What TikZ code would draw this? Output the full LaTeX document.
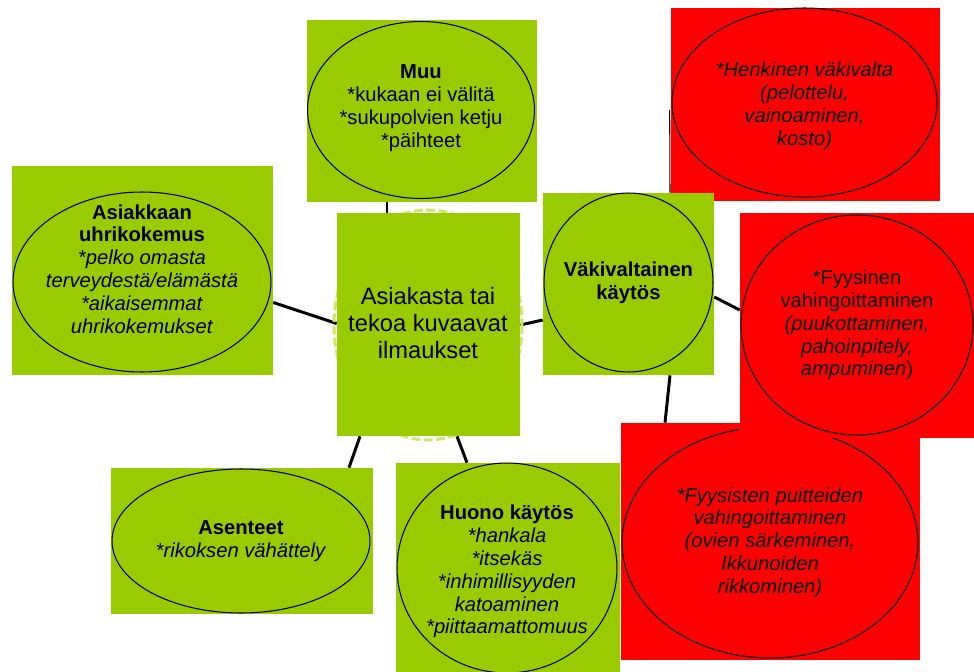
\documentclass[tikz,border=0pt]{standalone}
\usepackage{fontspec}
\setmainfont{Liberation Sans}
\usetikzlibrary{shapes.geometric,calc,backgrounds}

\definecolor{leafgreen}{RGB}{153,204,0}
\definecolor{paleleaf}{RGB}{205,230,110}
\definecolor{alarmred}{RGB}{255,0,0}

\begin{document}
\begin{tikzpicture}[x=0.02cm,y=-0.02cm,
    greenbox/.style={rectangle,fill=leafgreen,inner sep=0pt},
    redbox/.style={rectangle,fill=alarmred,inner sep=0pt},
    oval/.style={ellipse,draw,line width=0.6pt,inner sep=0pt},
    every label/.style={align=center,inner sep=0pt,font=\fontsize{11.5}{13}\selectfont},
    link/.style={line width=1.7pt}]
    \useasboundingbox (0,0) rectangle (974,672);

    % centre
    \draw[paleleaf,line width=1.7pt,dash pattern=on 5pt off 2pt] (428,325) ellipse (94 and 115);
    \node (ctrbox) at (428.5,324.5) [greenbox,minimum width=3.66cm,minimum height=4.46cm] {};
    \node (ctr) at (428,323) [align=center,font=\fontsize{13.5}{15.3}\selectfont] {Asiakasta tai\\tekoa kuvaavat\\ilmaukset};

    % green boxes
    \node (muubox) at (422,111) [greenbox,minimum width=4.6cm,minimum height=3.64cm] {};
    \node (muu) at (421,110) [oval,minimum width=4.54cm,minimum height=3.54cm,
        label={[yshift=1pt]center:{\textbf{Muu}\\*kukaan ei välitä\\*sukupolvien ketju\\*päihteet}}] {};

    \node (asibox) at (142.5,270.5) [greenbox,minimum width=5.22cm,minimum height=4.18cm] {};
    \node (asi) at (142,282) [oval,minimum width=5.16cm,minimum height=3.6cm,
        label={[yshift=0.26cm]center:{\textbf{Asiakkaan}\\\textbf{uhrikokemus}\\\textit{*pelko omasta}\\\textit{terveydestä/elämästä}\\\textit{*aikaisemmat}\\\textit{uhrikokemukset}}}] {};

    \node (henkbox) at (805.5,104.5) [redbox,minimum width=5.38cm,minimum height=3.86cm] {};
    \node (henk) at (804.5,102.5) [oval,minimum width=5.3cm,minimum height=3.78cm,
        label={[yshift=-2pt,font=\fontsize{11.5}{13}\selectfont\itshape]center:{*Henkinen väkivalta\\(pelottelu,\\vainoaminen,\\kosto)}}] {};

    \node (vakbox) at (628.5,284) [greenbox,minimum width=3.42cm,minimum height=3.64cm] {};
    \node (vak) at (628.5,282.5) [oval,minimum width=3.38cm,minimum height=3.58cm,
        label={center:{\textbf{Väkivaltainen}\\\textbf{käytös}}}] {};

    \node (asenbox) at (242,541) [greenbox,minimum width=5.24cm,minimum height=2.92cm] {};
    \node (asen) at (241,541) [oval,minimum width=5.16cm,minimum height=2.88cm,
        label={center:{\textbf{Asenteet}\\\textit{*rikoksen vähättely}}}] {};

    \node (huonobox) at (508,567.5) [greenbox,minimum width=4.48cm,minimum height=4.18cm] {};
    \node (huono) at (507,568) [oval,minimum width=4.4cm,minimum height=4.2cm,
        label={[yshift=-2pt]center:{\textbf{Huono käytös}\\\textit{*hankala}\\\textit{*itsekäs}\\\textit{*inhimillisyyden}\\\textit{katoaminen}\\\textit{*piittaamattomuus}}}] {};

    % red boxes
    \node (puitbox) at (770.5,541.5) [redbox,minimum width=5.98cm,minimum height=4.74cm] {};
    \node (puit) at (770,542.5) [oval,minimum width=5.92cm,minimum height=4.62cm,
        label={[font=\fontsize{11.5}{13}\selectfont\itshape]center:{*Fyysisten puitteiden\\vahingoittaminen\\(ovien särkeminen,\\Ikkunoiden\\rikkominen)}}] {};

    \node (fyysbox) at (857,325.5) [redbox,minimum width=4.68cm,minimum height=4.5cm] {};
    \node (fyys) at (857,325) [oval,minimum width=4.64cm,minimum height=4.4cm,
        label={center:{*Fyysinen\\vahingoittaminen\\\textit{(puukottaminen,}\\\textit{pahoinpitely,}\\\textit{ampuminen})}}] {};

    % connectors
    \begin{pgfonlayer}{background}
        \draw[link] ($(muubox.south)+(-35,0)$) -- ($(ctrbox.north)+(-41.5,0)$);
        \draw[link] ($(asibox.east)+(0,32)$) -- ($(ctrbox.west)+(0,-1)$);
        \draw[link] ($(ctrbox.east)+(0,0.5)$) -- ($(vakbox.west)+(0,36)$);
        \draw[link] ($(vakbox.east)+(0,13)$) -- ($(fyysbox.west)+(0,-15.5)$);
        \draw[link] ($(vakbox.south)+(41.5,0)$) -- ($(puitbox.north)+(-105.5,0)$);
        \draw[link] ($(ctrbox.south)+(-68.5,0)$) -- ($(asenbox.north)+(107,0)$);
        \draw[link] ($(ctrbox.south)+(28.5,0)$) -- ($(huonobox.north)+(-41,0)$);
        \draw[line width=0.6pt] ($(vakbox.north)+(41.5,0)$) -- ($(henkbox.west)+(-1,5.5)$);
    \end{pgfonlayer}
\end{tikzpicture}
\end{document}
